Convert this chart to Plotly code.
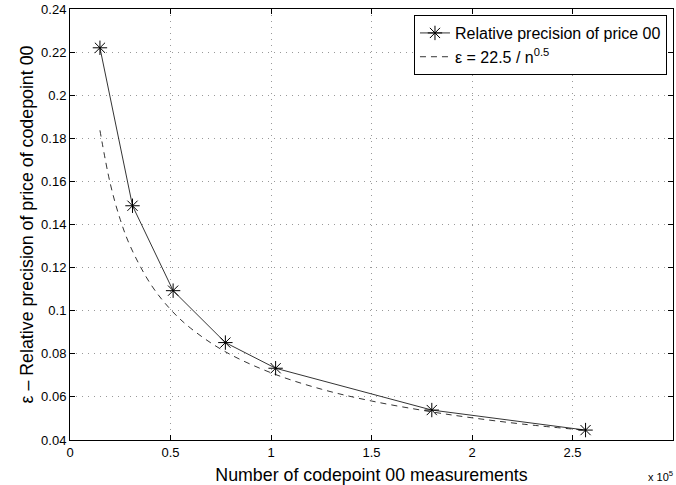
import plotly.graph_objects as go

# measured data (x in units of 1e5 measurements)
meas_x = [0.149, 0.311, 0.513, 0.773, 1.023, 1.80, 2.565]
meas_y = [0.222, 0.1487, 0.1093, 0.0852, 0.0733, 0.0539, 0.0446]

# dashed reference curve
fit_x = [0.149, 0.2, 0.25, 0.3, 0.4, 0.5, 0.6, 0.77, 1.0, 1.25, 1.5, 1.79, 2.0, 2.25, 2.565]
fit_y = [0.1837, 0.1591, 0.1423, 0.1299, 0.1125, 0.1006, 0.0919, 0.0811,
         0.0712, 0.0636, 0.0581, 0.0532, 0.0503, 0.0474, 0.0445]

x_ticks = [0, 0.5, 1, 1.5, 2, 2.5, 3]
x_ticktext = ["0", "0.5", "1", "1.5", "2", "2.5", "3"]
y_ticks = [0.04, 0.06, 0.08, 0.10, 0.12, 0.14, 0.16, 0.18, 0.20, 0.22, 0.24]
y_ticktext = ["0.04", "0.06", "0.08", "0.1", "0.12", "0.14", "0.16", "0.18", "0.2", "0.22", "0.24"]

font_family = "Liberation Sans, Arial, Helvetica, sans-serif"

fig = go.Figure()
fig.add_trace(go.Scatter(
    x=meas_x, y=meas_y, mode="lines+markers",
    name="Relative precision of price 00",
    line=dict(color="black", width=0.8),
    marker=dict(symbol="asterisk-open", size=12, color="black",
                line=dict(color="black", width=1)),
))
fig.add_trace(go.Scatter(
    x=fit_x, y=fit_y, mode="lines",
    name="ε = 22.5 / n<sup>0.5</sup>",
    line=dict(color="black", width=0.8, dash="6px,5px", shape="spline"),
))

axis_common = dict(
    showline=True, mirror="ticks", linecolor="black", linewidth=1,
    ticks="inside", ticklen=5, tickcolor="black",
    showgrid=True, gridcolor="#999999", griddash="1px,5px", gridwidth=1,
    zeroline=False, tickfont=dict(size=13, color="black", family=font_family),
)

fig.update_layout(
    width=676, height=485,
    margin=dict(l=70, r=3, t=9, b=45),
    paper_bgcolor="white", plot_bgcolor="white",
    font=dict(family=font_family, color="black"),
    xaxis=dict(range=[0, 3], tickvals=x_ticks, ticktext=x_ticktext,
               title=dict(text="Number of codepoint 00 measurements",
                          font=dict(size=17.8), standoff=9),
               **axis_common),
    yaxis=dict(range=[0.04, 0.24], tickvals=y_ticks, ticktext=y_ticktext,
               title=dict(text="ε – Relative precision of price of codepoint 00",
                          font=dict(size=17.8), standoff=2),
               **axis_common),
    legend=dict(x=0.99, y=0.986, xanchor="right", yanchor="top",
                bgcolor="white", bordercolor="black", borderwidth=1,
                font=dict(size=16, color="black"), tracegroupgap=0,
                itemwidth=30),
    showlegend=True,
)

fig.add_annotation(x=1.0, y=0, xref="paper", yref="paper",
                   text="x 10<sup>5</sup>", showarrow=False,
                   xanchor="right", yanchor="top", yshift=-27, xshift=2,
                   font=dict(size=11, color="black"))

fig.write_html("out.html")
